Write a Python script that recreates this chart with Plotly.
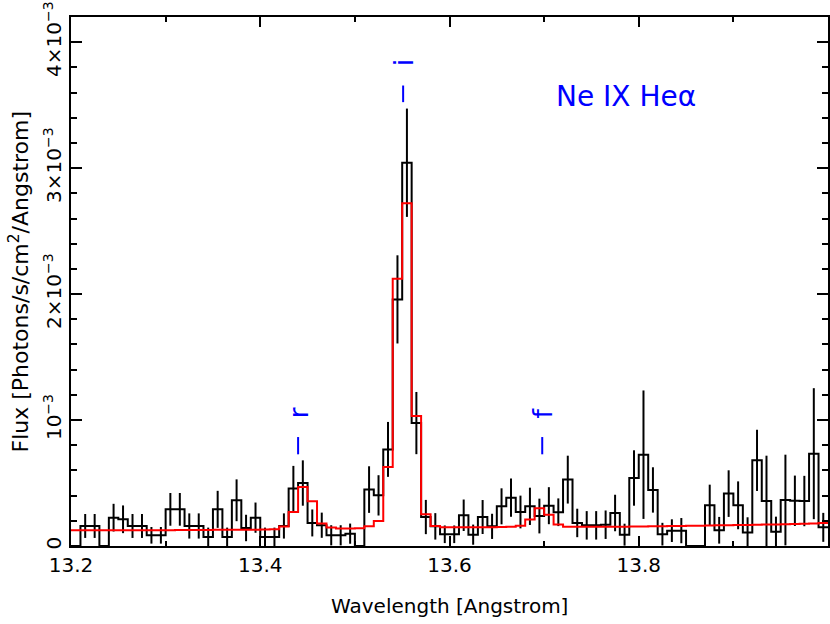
import numpy as np
import plotly.graph_objects as go

# Ne IX He-alpha region, 0.01 A bins starting at 13.20 A
wave_lo = 13.20
bin_width = 0.01
scale = 1e-3  # values below are in units of 1e-3 photons/s/cm2/A

# measured flux per bin (black histogram)
flux = [
    0.000, 0.159, 0.159, 0.000, 0.225, 0.212, 0.159, 0.159, 0.085, 0.085,
    0.291, 0.291, 0.159, 0.159, 0.071, 0.291, 0.071, 0.363, 0.143, 0.225,
    0.071, 0.071, 0.159, 0.456, 0.500, 0.183, 0.165, 0.085, 0.085, 0.098,
    0.000, 0.448, 0.402, 0.767, 1.958, 3.043, 0.976, 0.230, 0.156, 0.093,
    0.093, 0.244, 0.090, 0.230, 0.156, 0.315, 0.384, 0.270, 0.315, 0.238,
    0.320, 0.268, 0.527, 0.183, 0.164, 0.164, 0.169, 0.262, 0.090, 0.540,
    0.725, 0.445, 0.094, 0.122, 0.122, 0.000, 0.000, 0.323, 0.125, 0.416,
    0.323, 0.108, 0.680, 0.357, 0.113, 0.365, 0.359, 0.357, 0.733, 0.148,
]

# 1-sigma errors
flux_err = [
    0.000, 0.095, 0.095, 0.000, 0.110, 0.110, 0.095, 0.095, 0.066, 0.066,
    0.130, 0.130, 0.100, 0.100, 0.075, 0.147, 0.075, 0.166, 0.105, 0.120,
    0.075, 0.075, 0.100, 0.180, 0.180, 0.107, 0.100, 0.080, 0.080, 0.080,
    0.000, 0.185, 0.160, 0.218, 0.350, 0.430, 0.247, 0.136, 0.105, 0.070,
    0.070, 0.125, 0.080, 0.135, 0.100, 0.143, 0.152, 0.130, 0.148, 0.138,
    0.147, 0.110, 0.190, 0.113, 0.113, 0.113, 0.113, 0.145, 0.087, 0.220,
    0.510, 0.180, 0.090, 0.090, 0.100, 0.000, 0.000, 0.164, 0.106, 0.185,
    0.190, 0.120, 0.243, 0.360, 0.120, 0.360, 0.200, 0.200, 0.520, 0.115,
]

# fitted model (red histogram)
model = [
    0.125, 0.125, 0.125, 0.125, 0.125, 0.125, 0.125, 0.125, 0.125, 0.125,
    0.126, 0.127, 0.128, 0.128, 0.128, 0.129, 0.129, 0.130, 0.130, 0.130,
    0.131, 0.132, 0.155, 0.270, 0.468, 0.355, 0.178, 0.146, 0.138, 0.138,
    0.140, 0.156, 0.198, 0.627, 2.122, 2.722, 1.032, 0.252, 0.159, 0.148,
    0.148, 0.148, 0.148, 0.149, 0.149, 0.150, 0.152, 0.160, 0.210, 0.300,
    0.249, 0.170, 0.152, 0.152, 0.152, 0.152, 0.152, 0.153, 0.153, 0.154,
    0.155, 0.156, 0.157, 0.158, 0.159, 0.160, 0.161, 0.163, 0.164, 0.165,
    0.166, 0.167, 0.168, 0.170, 0.171, 0.173, 0.175, 0.177, 0.179, 0.182,
]

# triplet line identifications
line_names = ['r', 'i', 'f']
line_waves = [13.440, 13.551, 13.698]
line_mark_lo = [0.728, 3.524, 0.728]
line_mark_hi = [0.865, 3.656, 0.865]
line_label_y = [1.061, 3.842, 1.053]

ytick_vals = [0, 1, 2, 3, 4]
ytick_text = ['0', '10<sup>\u22123</sup>', '2\u00d710<sup>\u22123</sup>',
              '3\u00d710<sup>\u22123</sup>', '4\u00d710<sup>\u22123</sup>']
xtick_vals = [13.2, 13.4, 13.6, 13.8]
xtick_text = ['13.2', '13.4', '13.6', '13.8']

FONT = 'DejaVu Sans'
BLUE = '#0000ff'

n_bins = len(flux)
edges = wave_lo + bin_width * np.arange(n_bins + 1)
centres = edges[:-1] + bin_width / 2
flux = np.array(flux) * scale
flux_err = np.array(flux_err) * scale
model = np.array(model) * scale

fig = go.Figure()

# data histogram
fig.add_trace(go.Scatter(
    x=edges, y=np.append(flux, flux[-1]),
    mode='lines', line=dict(color='black', width=2, shape='hv'),
))

# error bars, only where there are counts
has_counts = flux > 0
fig.add_trace(go.Scatter(
    x=centres[has_counts], y=flux[has_counts],
    mode='markers', marker=dict(size=2, color='black', opacity=0),
    error_y=dict(type='data', array=flux_err[has_counts], width=0,
                 thickness=2, color='black'),
))

# model
fig.add_trace(go.Scatter(
    x=edges, y=np.append(model, model[-1]),
    mode='lines', line=dict(color='red', width=2, shape='hv'),
))

for name, w, lo, hi, ly in zip(line_names, line_waves, line_mark_lo, line_mark_hi, line_label_y):
    fig.add_shape(type='line', x0=w, x1=w, y0=lo * scale, y1=hi * scale,
                  line=dict(color=BLUE, width=2))
    fig.add_annotation(x=w, y=ly * scale, text=name, showarrow=False,
                       textangle=-90, font=dict(family=FONT, size=27, color=BLUE),
                       xanchor='center', yanchor='middle')

fig.add_annotation(x=13.787, y=3.569e-3, text='Ne IX He\u03b1', showarrow=False,
                   font=dict(family=FONT, size=28, color=BLUE),
                   xanchor='center', yanchor='middle')

# axis titles
fig.add_annotation(xref='paper', yref='paper', x=0.5, y=0, yshift=-60,
                   text='Wavelength [Angstrom]', showarrow=False,
                   font=dict(family=FONT, size=20, color='black'),
                   xanchor='center', yanchor='middle')
fig.add_annotation(xref='paper', yref='paper', x=0, xshift=-53, y=0.5,
                   text='Flux [Photons/s/cm<sup>2</sup>/Angstrom]', showarrow=False,
                   textangle=-90, font=dict(family=FONT, size=22, color='black'),
                   xanchor='center', yanchor='middle')

fig.update_layout(
    width=830, height=624,
    margin=dict(l=71, r=2, t=17, b=78, autoexpand=False),
    paper_bgcolor='white', plot_bgcolor='white',
    showlegend=False,
    font=dict(family=FONT, size=20, color='black'),
    xaxis=dict(
        range=[13.2, 14.0], tickmode='array', tickvals=xtick_vals, ticktext=xtick_text,
        ticks='inside', ticklen=10, tickwidth=2, tickcolor='black',
        minor=dict(tickmode='array', tickvals=[13.3, 13.5, 13.7, 13.9],
                   ticks='inside', ticklen=5, tickwidth=2, tickcolor='black'),
        showline=True, linewidth=2, linecolor='black', mirror='ticks',
        showgrid=False, zeroline=False, automargin=False,
    ),
    yaxis=dict(
        range=[0, 4.2e-3], tickmode='array',
        tickvals=[v * scale for v in ytick_vals], ticktext=ytick_text,
        tickangle=-90, ticklabeloverflow='allow',
        ticks='inside', ticklen=11, tickwidth=2, tickcolor='black',
        minor=dict(tickmode='array', tickvals=list(np.arange(0, 4.2e-3, 0.2e-3)),
                   ticks='inside', ticklen=6, tickwidth=2, tickcolor='black'),
        showline=True, linewidth=2, linecolor='black', mirror='ticks',
        showgrid=False, zeroline=False, automargin=False,
    ),
)

# drop the browser's default 8px body margin so the figure fills the window
fig.write_html("out.html", config={'displayModeBar': False},
               post_script="document.body.style.margin = '0px';")
